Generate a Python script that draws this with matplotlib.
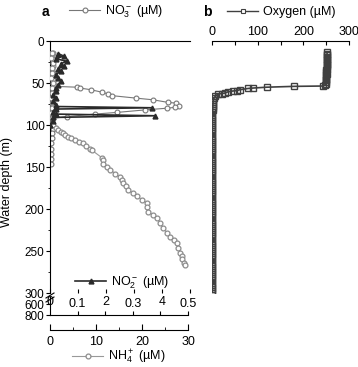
import matplotlib
matplotlib.use('Agg')
from matplotlib import pyplot as plt
from matplotlib.lines import Line2D

plt.rcParams['font.family'] = ['Liberation Sans', 'DejaVu Sans']
plt.rcParams['mathtext.default'] = 'regular'
plt.rcParams['font.size'] = 9

# nitrate (uM) vs depth (m)
no3_depth = [14, 18, 22, 26, 30, 34, 38, 42, 46, 50, 54, 55, 56, 58, 61, 63, 65, 68, 70, 73,
             74, 77, 79, 80, 82, 85, 87, 90, 92, 96, 100, 105, 110, 116, 122, 128, 134, 140, 146]
no3 = [0.1, 0.05, 0.12, 0.08, 0.1, 0.06, 0.1, 0.08, 0.12, 0.1, 0.18, 0.96, 1.07, 1.46, 1.86, 2.07,
       2.2, 3.07, 3.68, 4.2, 4.5, 4.6, 4.46, 4.18, 3.4, 2.4, 1.6, 0.6, 0.1, 0.08, 0.05, 0.1, 0.06,
       0.08, 0.05, 0.04, 0.02, 0.05, 0.03]

# nitrite (uM)
no2_depth = [15, 18, 21, 24, 27, 30, 33, 36, 40, 44, 48, 52, 56, 60, 64, 68, 72, 76, 78, 79.5,
             81, 84, 87, 89, 91, 95, 100]
no2 = [0.03, 0.05, 0.02, 0.06, 0.04, 0.05, 0.03, 0.04, 0.02, 0.03, 0.04, 0.03, 0.02, 0.02, 0.01,
       0.02, 0.01, 0.02, 0.02, 0.37, 0.02, 0.01, 0.02, 0.38, 0.01, 0.01, 0.0]

# ammonium (uM)
nh4_depth = [14, 20, 26, 32, 38, 44, 50, 56, 62, 68, 74, 80, 86, 92, 98, 100, 103, 106, 108, 110,
             112, 114, 116, 118, 120, 122, 125, 128, 130, 139, 142, 146, 150, 153, 158, 162, 166,
             169, 173, 177, 181, 185, 189, 193, 198, 203, 207, 211, 217, 223, 228, 233, 237, 240,
             246, 252, 256, 260, 264, 267]
nh4 = [0.5, 0.3, 0.6, 0.4, 0.5, 0.3, 0.6, 0.4, 0.5, 0.3, 0.4, 0.5, 0.3, 0.4, 0.5, 0.7, 1.2, 1.8,
       2.3, 2.9, 3.3, 3.9, 4.6, 5.4, 6.2, 7.2, 7.9, 8.7, 9.1, 11.3, 11.5, 11.6, 12.4, 13.0, 14.2,
       15.2, 15.6, 15.9, 16.5, 17.0, 18.0, 18.9, 20.0, 21.1, 21.0, 21.3, 22.4, 23.3, 24.0, 24.6,
       25.4, 26.1, 27.0, 27.6, 27.9, 28.3, 28.6, 28.8, 29.1, 29.3]

# oxygen (uM), dense CTD-like sampling
o2_depth = [13, 15, 17, 19, 21, 23, 25, 27, 29, 31, 33, 35, 37, 39, 41, 43, 45, 47, 49, 51, 52,
            53.6, 54, 55, 56, 56.5, 58, 59, 59.5, 60.5, 62, 62.5, 63, 66, 68,
            70, 72.5, 75, 77.5, 80, 82.5, 85, 87.5, 90, 92.5, 95, 97.5, 100, 102.5, 105, 107.5,
            110, 112.5, 115, 117.5, 120, 122.5, 125, 127.5, 130, 132.5, 135, 137.5, 140, 142.5,
            145, 147.5, 150, 152.5, 155, 157.5, 160, 162.5, 165, 167.5, 170, 172.5, 175, 177.5,
            180, 182.5, 185, 187.5, 190, 192.5, 195, 197.5, 200, 202.5, 205, 207.5, 210, 212.5,
            215, 217.5, 220, 222.5, 225, 227.5, 230, 232.5, 235, 237.5, 240, 242.5, 245, 247.5,
            250, 252.5, 255, 257.5, 260, 262.5, 265, 267.5, 270, 272.5, 275, 277.5, 280, 282.5,
            285, 287.5, 290, 292.5, 295, 297.5, 300]
o2 = [252, 252, 251, 252, 251, 252, 251, 252, 251, 251, 251, 250, 250, 251, 250, 250, 250, 249,
      249, 249, 248,
      243, 180, 120, 90, 79, 61, 55, 46, 35, 28, 22, 13, 7, 4.5,
      3, 2.5, 2, 1.8, 1.5, 1.2, 1, 1, 1, 0.8, 0.8, 0.8, 0.6, 0.6, 0.6, 0.5,
      0.5, 0.5, 0.5, 0.5, 0.5, 0.5, 0.5, 0.5, 0.5, 0.5, 0.5, 0.5, 0.5, 0.5,
      0.5, 0.5, 0.5, 0.5, 0.5, 0.5, 0.5, 0.5, 0.5, 0.5, 0.5, 0.5, 0.5, 0.5,
      0.5, 0.5, 0.5, 0.5, 0.5, 0.5, 0.5, 0.5, 0.5, 0.5, 0.5, 0.5, 0.5, 0.5,
      0.5, 0.5, 0.5, 0.5, 0.5, 0.5, 0.5, 0.5, 0.5, 0.5, 0.5, 0.5, 0.5, 0.5,
      0.5, 0.5, 0.5, 0.5, 0.5, 0.5, 0.5, 0.5, 0.5, 0.5, 0.5, 0.5, 0.5, 0.5,
      0.5, 0.5, 0.5, 0.5, 0.5, 0.5, 0.5]

W, H = 358, 367


def fx(x):
    return x / W


def fy(y):
    return 1 - y / H


fig = plt.figure(figsize=(W / 100, H / 100), dpi=100)

no3_style = dict(color='#777777', lw=0.8, marker='o', ms=3.5, mfc='white', mec='#777777', mew=0.8)
no2_style = dict(color='#2a2a2a', lw=1.2, marker='^', ms=3.5, mfc='#2a2a2a', mec='#2a2a2a')
nh4_style = dict(color='#999999', lw=0.8, marker='o', ms=3.5, mfc='white', mec='#8c8c8c', mew=0.9)
o2_style = dict(color='#404040', lw=1.2, marker='s', ms=3.8, mfc='none', mec='#404040', mew=1.0)

# ---- panel a ----
ax = fig.add_axes([fx(50), fy(293), 140 / W, (293 - 41) / H])
ax.plot(no3, no3_depth, **no3_style, zorder=2)
ax.set_xlim(0, 5)
ax.set_ylim(300, 0)
ax.xaxis.tick_top()
ax.set_xticks([0, 1, 2, 3, 4, 5])
ax.set_xticklabels(['0', '', '2', '', '4', ''])
ax.tick_params(axis='x', direction='in', length=3, pad=2)
ax.set_yticks([0, 50, 100, 150, 200, 250, 300])
ax.set_yticks([25, 75, 125, 175, 225, 275], minor=True)
ax.tick_params(axis='y', direction='out', length=3, pad=1, labelsize=8.5)
ax.tick_params(axis='y', which='minor', direction='out', length=1.5)
ax.spines['right'].set_visible(False)
ax.spines['bottom'].set_visible(False)
ax.patch.set_alpha(0)

ax_nh4 = ax.twiny()
ax_nh4.plot(nh4, nh4_depth, **nh4_style, zorder=3)
ax_nh4.set_xlim(0, 30 * 140 / 138)
ax_nh4.set_ylim(300, 0)
ax_nh4.axis('off')

ax_no2 = ax.twiny()
ax_no2.plot(no2, no2_depth, **no2_style, zorder=4)
ax_no2.set_xlim(0, 0.5 * 140 / 138)
ax_no2.set_ylim(300, 0)
ax_no2.axis('off')

ax.set_ylabel('Water depth (m)')
ax.yaxis.set_label_coords(-0.262, 0.44)

# lower broken part (600-800 m) carrying the nitrite axis
ax_low = fig.add_axes([fx(50), fy(315), 138 / W, (315 - 297) / H])
ax_low.set_ylim(800, 470)
ax_low.set_yticks([600, 800])
ax_low.set_xlim(0, 0.5)
ax_low.set_xticks([0.1, 0.2, 0.3, 0.4, 0.5])
ax_low.set_xticklabels(['0.1', '', '0.3', '', '0.5'])
ax_low.tick_params(axis='x', direction='in', length=3, pad=-12)
ax_low.tick_params(axis='y', direction='out', length=3, pad=1, labelsize=8.5)
ax_low.spines['right'].set_visible(False)
ax_low.spines['top'].set_visible(False)
ax_low.patch.set_alpha(0)

# ammonium axis below
ax_nh4ax = fig.add_axes([fx(50), fy(330), 138 / W, 0.0001])
ax_nh4ax.set_xlim(0, 30)
ax_nh4ax.set_xticks([0, 10, 20, 30])
ax_nh4ax.set_xticks([5, 15, 25], minor=True)
ax_nh4ax.tick_params(axis='x', direction='in', length=4, pad=4)
ax_nh4ax.tick_params(axis='x', which='minor', direction='in', length=2)
ax_nh4ax.set_yticks([])
for s in ['top', 'left', 'right']:
    ax_nh4ax.spines[s].set_visible(False)
ax_nh4ax.patch.set_alpha(0)

# break marks on the depth axis
for y0 in (298, 302):
    fig.add_artist(Line2D([fx(46), fx(54)], [fy(y0), fy(y0 - 5)], color='black', lw=0.8))

# ---- panel b ----
axb = fig.add_axes([fx(212), fy(293), 137 / W, (293 - 41) / H])
axb.plot(o2, o2_depth, **o2_style)
axb.set_xlim(0, 300)
axb.set_ylim(300, 0)
axb.xaxis.tick_top()
axb.set_xticks([0, 50, 100, 150, 200, 250, 300])
axb.set_xticklabels(['0', '', '100', '', '200', '', '300'])
axb.tick_params(axis='x', direction='in', length=3, pad=2)
axb.set_yticks([])
for s in ['left', 'right', 'bottom']:
    axb.spines[s].set_visible(False)
axb.patch.set_alpha(0)

# panel letters and legends
fig.text(fx(42), fy(12), 'a', fontsize=10, fontweight='bold', va='center')
fig.text(fx(203), fy(12), 'b', fontsize=10, fontweight='bold', va='center')

legend_kw = dict(loc='center left', frameon=False, borderpad=0, borderaxespad=0,
                 handlelength=2.5, handletextpad=0.4, fontsize=9)
fig.legend(handles=[Line2D([], [], **no3_style)], labels=['NO$_3^-$ (µM)'],
           bbox_to_anchor=(fx(69), fy(12)), **legend_kw)
fig.legend(handles=[Line2D([], [], color='#404040', lw=1.0, marker='s', ms=3.2, mfc='white',
                           mec='#404040', mew=0.8)], labels=['Oxygen (µM)'],
           bbox_to_anchor=(fx(227), fy(12)), **legend_kw)
fig.legend(handles=[Line2D([], [], **no2_style)], labels=['NO$_2^-$ (µM)'],
           bbox_to_anchor=(fx(75), fy(283)), **legend_kw)
fig.legend(handles=[Line2D([], [], **nh4_style)], labels=['NH$_4^+$ (µM)'],
           bbox_to_anchor=(fx(72), fy(357)), **legend_kw)

fig.savefig('out.png', dpi=100)
